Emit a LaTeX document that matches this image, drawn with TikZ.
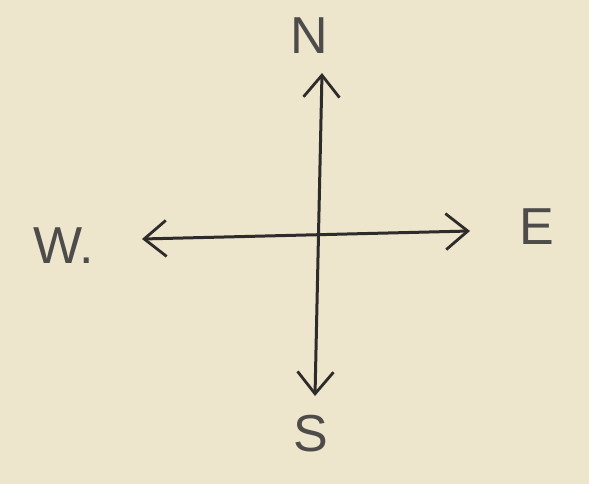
\documentclass[tikz,border=0pt]{standalone}
\usepackage{fontspec}
\setmainfont{Liberation Sans}
\usepackage{tikz}
\usetikzlibrary{arrows.meta, positioning}
\definecolor{mpaper}{HTML}{EEE5CD}
\definecolor{mink}{HTML}{2E2C2A}
\tikzset{
  dirlbl/.style={text=mink!85, font=\fontsize{52}{60}\selectfont, inner sep=0pt},
  needle/.style={{Straight Barb[length=22pt, width=36pt, line width=2.8pt]}-{Straight Barb[length=22pt, width=36pt, line width=2.8pt]},
                 line width=3pt, mink},
}

\begin{document}
\begin{tikzpicture}[x=1pt, y=-1pt]
  \fill[mpaper] (0,0) rectangle (589,484);
  \useasboundingbox (0,0) rectangle (589,484);
  % tips of the cross
  \coordinate (ntip) at (322,73);
  \coordinate (stip) at (315,396);
  \coordinate (wtip) at (142,239);
  \coordinate (etip) at (470,231);
  % the four labels
  \node[dirlbl] (N) at (309,36) {N};
  \node[dirlbl] (S) at (311,434) {S};
  \node[dirlbl, anchor=west] (W) at (33,246) {W.};
  \node[dirlbl] (E) at (537,227) {E};
  \draw[needle] (stip) -- (ntip);
  \draw[needle] (wtip) -- (etip);
\end{tikzpicture}
\end{document}
